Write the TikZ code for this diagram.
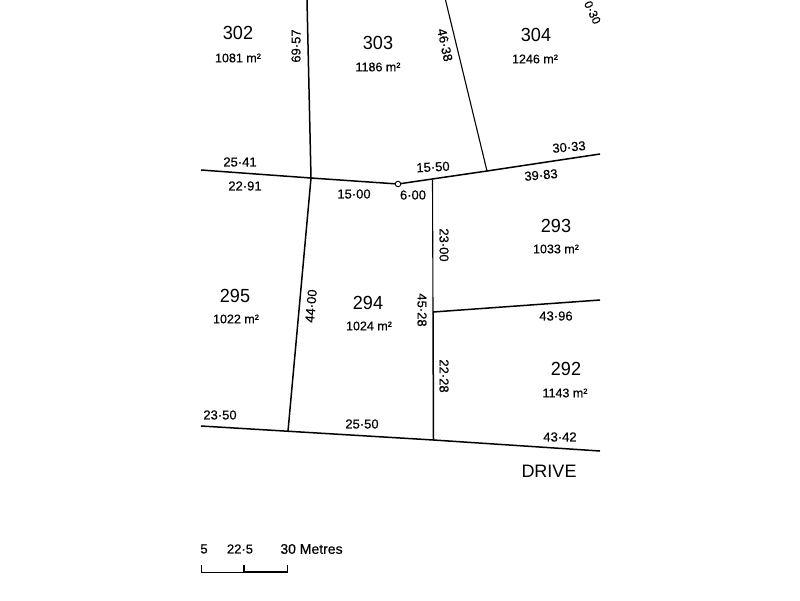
\documentclass[tikz,border=0pt]{standalone}
\usepackage{fontspec}
\setmainfont{Liberation Sans}
\newfontfamily\heavyfont[FakeBold=0.35]{Liberation Sans}
\begin{document}
\begin{tikzpicture}[x=1pt,y=-1pt,
  lot/.style={font=\fontsize{19}{19}\selectfont,inner sep=0pt,xscale=.95},
  area/.style={font=\heavyfont\fontsize{12.5}{13}\selectfont,inner sep=0pt},
  dim/.style={font=\heavyfont\fontsize{13}{13}\selectfont,inner sep=0pt},
  bound/.style={draw=black,line width=1.5pt},
  thin bound/.style={draw=black,line width=1.1pt}]
\useasboundingbox (0,0) rectangle (800,600);
\fill[white] (0,0) rectangle (800,600);
% boundary points
\coordinate (a1) at (307,0);
\coordinate (a2) at (311,178);
\coordinate (a3) at (288,431);
\coordinate (h1) at (201,170);
\coordinate (h2) at (398,184);
\coordinate (h3) at (487,171);
\coordinate (h4) at (600,154);
\coordinate (t1) at (445.5,0);
\coordinate (v1) at (432.5,180);
\coordinate (v2) at (433,312);
\coordinate (v3) at (433.5,440);
\coordinate (c1) at (600,300);
\coordinate (b1) at (201,426);
\coordinate (b2) at (600,451);
\draw[bound] (a1) -- (a2) -- (a3);
\draw[bound] (h1) -- (a2) -- (h2) -- (h3) -- (h4);
\draw[thin bound] (t1) -- (h3);
\draw[thin bound] (v1) -- (v2);
\draw[bound] (v2) -- (v3);
\draw[bound] (v2) -- (c1);
\draw[bound] (b1) -- (v3) -- (b2);
\node[circle,draw=black,fill=white,line width=.9pt,minimum size=5.5pt,inner sep=0pt] (peg) at (398,184) {};
% lots
\node[lot] (l302) at (238,33) {302};
\node[lot] (l303) at (378,43) {303};
\node[lot] (l304) at (536,35) {304};
\node[lot] (l293) at (556,226) {293};
\node[lot] (l295) at (235,296) {295};
\node[lot] (l294) at (368,303) {294};
\node[lot] (l292) at (566,369) {292};
% areas
\node[area] (s302) at (238,58) {1081 m²};
\node[area] (s303) at (378,67) {1186 m²};
\node[area] (s304) at (535,59) {1246 m²};
\node[area] (s293) at (556,249) {1033 m²};
\node[area] (s295) at (236,319) {1022 m²};
\node[area] (s294) at (369,326) {1024 m²};
\node[area] (s292) at (565,393) {1143 m²};
% dimensions
\node[dim] (d1) at (240,162) {25·41};
\node[dim] (d2) at (245,186) {22·91};
\node[dim] (d3) at (354,194) {15·00};
\node[dim,rotate=3] (d4) at (433,167) {15·50};
\node[dim] (d5) at (413,195) {6·00};
\node[dim,rotate=5] (d6) at (569,147) {30·33};
\node[dim,rotate=5] (d7) at (541,175) {39·83};
\node[dim,rotate=90] (d8) at (296,46) {69·57};
\node[dim,rotate=-78] (d9) at (445,45) {46·38};
\node[dim,rotate=-90] (d10) at (444,245) {23·00};
\node[dim,rotate=-90] (d11) at (422,310) {45·28};
\node[dim,rotate=-90] (d12) at (444,376) {22·28};
\node[dim,rotate=85] (d13) at (311,306) {44·00};
\node[dim] (d14) at (556,316) {43·96};
\node[dim] (d15) at (220,415) {23·50};
\node[dim] (d16) at (362,424) {25·50};
\node[dim] (d17) at (560,437) {43·42};
\node[font=\fontsize{18}{18}\selectfont,inner sep=0pt] (drive) at (549,471) {DRIVE};
% scale
\node[dim] (sc1) at (204,549) {5};
\node[dim] (sc2) at (240,549) {22·5};
\node[dim,font=\heavyfont\fontsize{14}{14}\selectfont] (sc3) at (311.5,549) {30 Metres};
\coordinate (s1) at (201,565);
\coordinate (s2) at (201,572);
\coordinate (s3) at (244,565);
\coordinate (s4) at (244,572);
\coordinate (s5) at (287.5,572);
\coordinate (s6) at (287.5,565);
\draw[thin bound,line width=.9pt] (s1) -- (s2) -- (s4);
\draw[bound] (s3) -- (s4) -- (s5);
\draw[thin bound,line width=.9pt] (s5) -- (s6);
% fragment at the top right
\node[dim,font=\heavyfont\fontsize{12}{12}\selectfont,rotate=-65] (frag) at (592.5,12.5) {0·30};
\end{tikzpicture}
\end{document}
